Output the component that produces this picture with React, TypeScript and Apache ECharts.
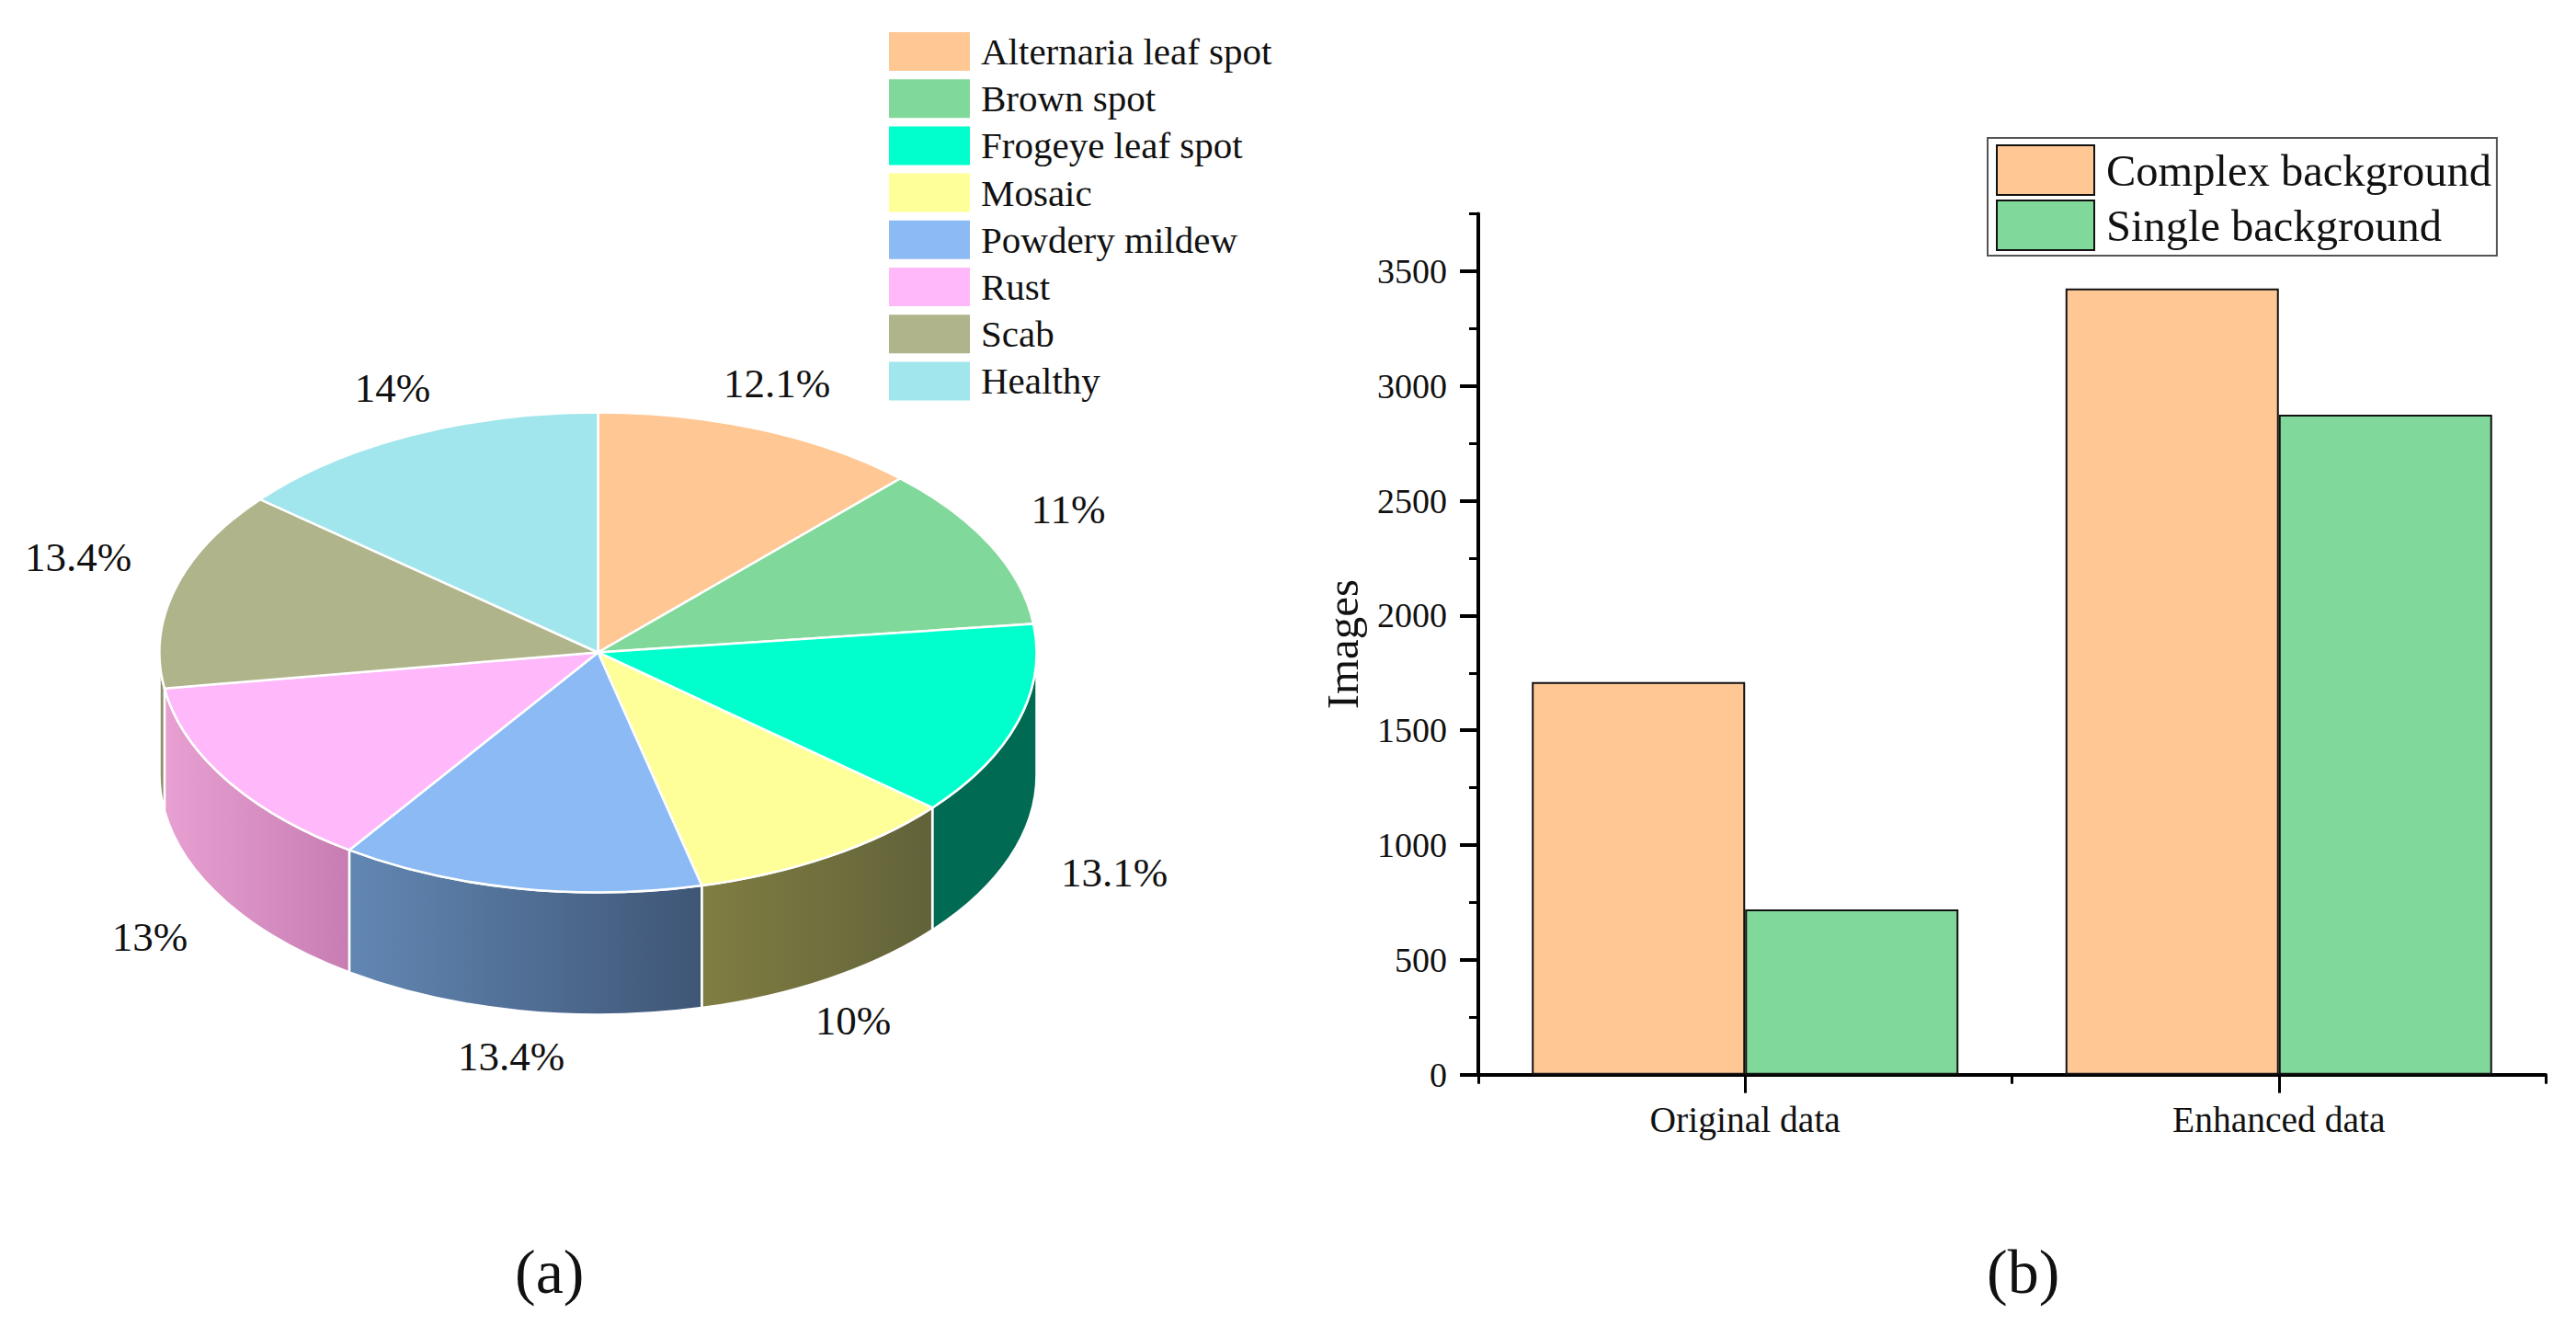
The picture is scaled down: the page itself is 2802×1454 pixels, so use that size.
import React, { useEffect, useRef } from "react";
import * as echarts from "echarts";

// ---------- data ----------
const diseaseNames = ["Alternaria leaf spot", "Brown spot", "Frogeye leaf spot", "Mosaic", "Powdery mildew", "Rust", "Scab", "Healthy"];
const diseaseShares = [12.1, 11, 13.1, 10, 13.4, 13, 13.4, 14];
const groupNames = ["Original data", "Enhanced data"];
const complexImages = [1710, 3425];
const singleImages = [720, 2875];
const majorTickValues = [0, 500, 1000, 1500, 2000, 2500, 3000, 3500];
const minorTickValues = [250, 750, 1250, 1750, 2250, 2750, 3250, 3750];

// ---------- styles & layout ----------
const SERIF = "Liberation Serif";
const TEXT = "#111111";
const topColors = ["#FFC794", "#80D89A", "#00FFCC", "#FFFF99", "#8CBAF5", "#FFB9FB", "#AFB48B", "#A0E6EC"];
const sideColors: [string, string][] = [
  ["#806448", "#806448"],
  ["#406C4D", "#406C4D"],
  ["#006A52", "#006A52"],
  ["#807E42", "#62623A"],
  ["#6287B3", "#3F5676"],
  ["#E8A0D2", "#C77DB2"],
  ["#8F9070", "#8F9070"],
  ["#507074", "#507074"],
];
const PIE = { cx: 650.5, cy: 709.5, rx: 477, ry: 261, depth: 133 };
// percent label centres in page pixels, one per slice
const labelAnchors = [
  [845, 417], [1162, 554], [1212, 949], [928, 1110], [556, 1149], [163, 1019], [85, 606], [427, 422],
];

function point(deg: number, dy = 0): [number, number] {
  const a = (deg * Math.PI) / 180;
  return [PIE.cx + PIE.rx * Math.sin(a), PIE.cy - PIE.ry * Math.cos(a) + dy];
}
function sliceRange(i: number): [number, number] {
  let start = 0;
  for (let k = 0; k < i; k++) start += diseaseShares[k] * 3.6;
  const end = i === diseaseShares.length - 1 ? 360 : start + diseaseShares[i] * 3.6;
  return [start, end];
}
function topPath(i: number): string {
  const [s, e] = sliceRange(i);
  const [x0, y0] = point(s);
  const [x1, y1] = point(e);
  return `M ${PIE.cx} ${PIE.cy} L ${x0} ${y0} A ${PIE.rx} ${PIE.ry} 0 ${e - s > 180 ? 1 : 0} 1 ${x1} ${y1} Z`;
}
function sidePath(i: number): string | null {
  const [s0, e0] = sliceRange(i);
  const s = Math.max(s0, 90);
  const e = Math.min(e0, 270);
  if (e <= s) return null;
  const [x0, y0] = point(s);
  const [x1, y1] = point(e);
  const [x2, y2] = point(e, PIE.depth);
  const [x3, y3] = point(s, PIE.depth);
  return `M ${x0} ${y0} A ${PIE.rx} ${PIE.ry} 0 0 1 ${x1} ${y1} L ${x2} ${y2} A ${PIE.rx} ${PIE.ry} 0 0 0 ${x3} ${y3} Z`;
}

export default function App() {
  const ref = useRef<HTMLDivElement>(null);
  useEffect(() => {
    if (!ref.current) return;
    const chart = echarts.init(ref.current, undefined, { renderer: "svg" });
    const axisLine = { show: true, lineStyle: { color: "#000", width: 4 } };
    chart.setOption({
      animation: false,
      backgroundColor: "#fff",
      legend: [
        {
          data: diseaseNames,
          orient: "vertical",
          left: 967,
          top: 35,
          padding: 0,
          itemWidth: 88,
          itemHeight: 42,
          itemGap: 9.2,
          icon: "rect",
          selectedMode: false,
          textStyle: { fontFamily: SERIF, fontSize: 41, color: TEXT, padding: [0, 0, 0, 7], lineHeight: 42 },
        },
        {
          data: ["Complex background", "Single background"],
          orient: "vertical",
          left: 2162,
          top: 150,
          padding: [7, 6, 5, 9],
          itemWidth: 106,
          itemHeight: 54,
          itemGap: 4,
          icon: "rect",
          selectedMode: false,
          borderColor: "#555",
          borderWidth: 2,
          textStyle: { fontFamily: SERIF, fontSize: 48.5, color: TEXT, padding: [0, 0, 0, 8], lineHeight: 54 },
        },
      ],
      grid: { left: 1608, right: 33, top: 232.5, height: 936.2, containLabel: false },
      xAxis: [
        {
          type: "category",
          data: groupNames,
          position: "bottom",
          axisLine,
          axisTick: { show: true, alignWithLabel: true, length: 20, lineStyle: { color: "#000", width: 3 } },
          axisLabel: { fontFamily: SERIF, fontSize: 39.5, color: TEXT, margin: 29 },
        },
        {
          type: "category",
          data: groupNames,
          position: "bottom",
          axisLine: { show: false },
          axisTick: { show: true, alignWithLabel: false, length: 10, lineStyle: { color: "#000", width: 3 } },
          axisLabel: { show: false },
        },
      ],
      yAxis: [
        {
          type: "value",
          min: 0,
          max: 3750,
          position: "left",
          name: "Images",
          nameLocation: "middle",
          nameGap: 123,
          nameTextStyle: { fontFamily: SERIF, fontSize: 49, color: TEXT },
          splitLine: { show: false },
          axisLine,
          axisTick: { show: true, length: 20, customValues: majorTickValues, lineStyle: { color: "#000", width: 4 } },
          axisLabel: {
            fontFamily: SERIF,
            fontSize: 38,
            color: TEXT,
            margin: 34,
            customValues: majorTickValues,
            formatter: (v: number) => String(v),
          },
        },
        {
          type: "value",
          min: 0,
          max: 3750,
          position: "left",
          splitLine: { show: false },
          axisLine: { show: false },
          axisTick: { show: true, length: 10, customValues: minorTickValues, lineStyle: { color: "#000", width: 3 } },
          axisLabel: { show: false },
        },
      ],
      series: [
        {
          name: "Complex background",
          type: "bar",
          data: complexImages,
          barWidth: 232,
          barGap: 0,
          itemStyle: { color: topColors[0], borderColor: "#111", borderWidth: 2 },
        },
        {
          name: "Single background",
          type: "bar",
          data: singleImages,
          barWidth: 232,
          barGap: 0,
          itemStyle: { color: topColors[1], borderColor: "#111", borderWidth: 2 },
        },
        {
          // supplies the legend's entries for the disease classes
          name: "pie-legend",
          type: "pie",
          radius: [0, 0],
          center: [PIE.cx, PIE.cy],
          silent: true,
          label: { show: false },
          labelLine: { show: false },
          data: diseaseNames.map((name, i) => ({ name, value: diseaseShares[i], itemStyle: { color: topColors[i] } })),
        },
        {
          name: "pie-sides",
          type: "custom",
          coordinateSystem: "none",
          silent: true,
          z: 3,
          data: diseaseShares,
          renderItem: (params: any) => {
            const i = params.dataIndex;
            const d = sidePath(i);
            if (!d) return { type: "group", children: [] };
            return {
              type: "path",
              shape: { pathData: d },
              style: {
                fill: new echarts.graphic.LinearGradient(0, 0, 1, 0, [
                  { offset: 0, color: sideColors[i][0] },
                  { offset: 1, color: sideColors[i][1] },
                ]),
                stroke: "#fff",
                lineWidth: 2.5,
              },
            };
          },
        },
        {
          name: "pie-tops",
          type: "custom",
          coordinateSystem: "none",
          silent: true,
          z: 4,
          data: diseaseShares,
          renderItem: (params: any, api: any) => {
            const i = params.dataIndex;
            return {
              type: "group",
              children: [
                {
                  type: "path",
                  shape: { pathData: topPath(i) },
                  style: { fill: topColors[i], stroke: "#fff", lineWidth: 2.5 },
                },
                {
                  type: "text",
                  style: {
                    text: `${api.value(0)}%`,
                    x: labelAnchors[i][0],
                    y: labelAnchors[i][1],
                    align: "center",
                    verticalAlign: "middle",
                    fontFamily: SERIF,
                    fontSize: 45,
                    fill: TEXT,
                  },
                },
              ],
            };
          },
        },
      ],
      graphic: [
        { type: "text", left: 560, top: 1349, style: { text: "(a)", fontFamily: SERIF, fontSize: 68, fill: TEXT } },
        { type: "text", left: 2161, top: 1349, style: { text: "(b)", fontFamily: SERIF, fontSize: 68, fill: TEXT } },
      ],
    });
    return () => chart.dispose();
  }, []);
  return <div ref={ref} style={{ position: "absolute", left: 0, top: 0, width: 2802, height: 1454 }} />;
}
